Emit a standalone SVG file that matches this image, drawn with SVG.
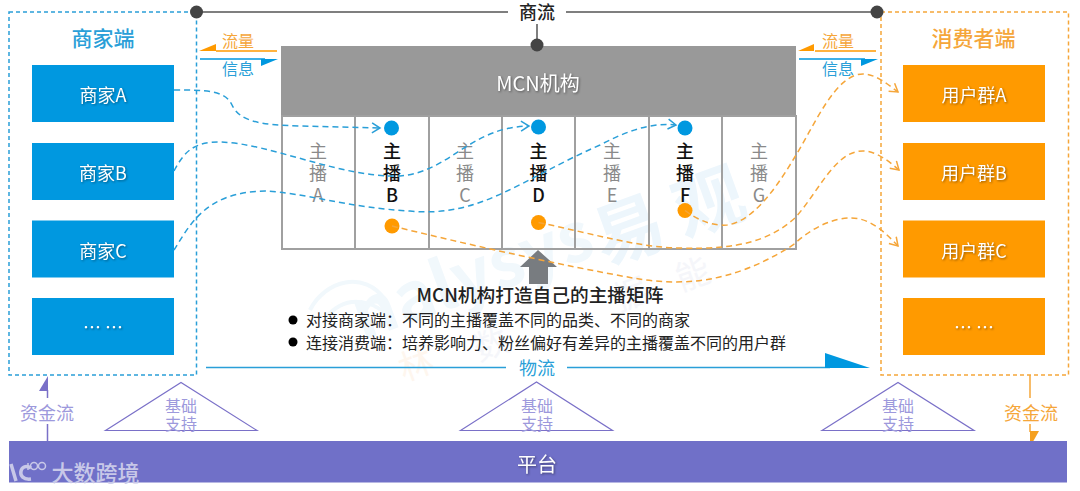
<svg xmlns="http://www.w3.org/2000/svg" width="1080" height="491" viewBox="0 0 1080 491">
<style>
text{font-family:"Noto Sans CJK SC","Noto Sans",sans-serif;text-anchor:middle;dominant-baseline:central}
.b{fill:#0098e0}.o{fill:#ff9a00}
.lab{font-size:18px;fill:#fff;filter:drop-shadow(1px 1px 1px rgba(0,0,0,.4))}
.gn{font-size:18px;fill:#8a8a8a}.bn{font-size:18px;fill:#111;font-weight:500}
.cell{fill:none;stroke:#a0a0a0;stroke-width:2}
.bc{fill:none;stroke:#2a9fd8;stroke-width:1.5;stroke-dasharray:6 4}
.oc{fill:none;stroke:#f5a63a;stroke-width:1.5;stroke-dasharray:6 4}
.pt{fill:none;stroke:#7a70c8;stroke-width:1.2}
.pl{font-size:16px;fill:#9d99dc}
.sm{font-size:16px;fill:#222;text-anchor:start}
.dk{fill:#444}
</style>
<defs>
<marker id="ab" markerWidth="12" markerHeight="12" refX="10" refY="6" orient="auto" markerUnits="userSpaceOnUse"><path d="M2,1L10,6L2,11" fill="none" stroke="#2a9fd8" stroke-width="1.5"/></marker>
<marker id="ao" markerWidth="12" markerHeight="12" refX="10" refY="6" orient="auto" markerUnits="userSpaceOnUse"><path d="M2,1L10,6L2,11" fill="none" stroke="#f5a63a" stroke-width="1.5"/></marker>
</defs>
<rect width="1080" height="491" fill="#fff"/>
<g id="watermark">
<text x="627" y="225" font-size="70" font-weight="700" fill="#edf6fc" transform="rotate(-20 627 225)">易</text>
<text x="707" y="197" font-size="70" font-weight="700" fill="#edf6fc" transform="rotate(-20 707 197)">观</text>
<text x="470" y="270" font-size="68" font-weight="700" fill="#f1f8fc" transform="rotate(-20 470 270)">nalysys</text>
<path d="M310,310C325,280 365,270 385,300M325,320C340,295 375,295 395,325" fill="none" stroke="#f1f8fc" stroke-width="4"/>
<text x="490" y="342" font-size="34" fill="#f5f6fa" transform="rotate(-20 490 342)">数</text>
<text x="630" y="292" font-size="34" fill="#f5f6fa" transform="rotate(-20 630 292)">据</text>
<text x="692" y="272" font-size="34" fill="#f5f6fa" transform="rotate(-20 692 272)">能</text>
<text x="415" y="362" font-size="34" fill="#fef6ee" transform="rotate(-20 415 362)">林</text>
</g>
<g id="merchant-side">
<rect x="9" y="12" width="187.5" height="363" fill="none" stroke="#2a9fd8" stroke-width="1.5" stroke-dasharray="4 3"/>
<text x="103" y="37" font-size="21" fill="#2a9fd8" font-weight="500">商家端</text>
</g>
<g id="merchant-a"><rect class="b" x="32" y="65" width="142" height="57"/><text class="lab" x="103" y="94">商家A</text></g>
<g id="merchant-b"><rect class="b" x="32" y="143" width="142" height="57"/><text class="lab" x="103" y="172">商家B</text></g>
<g id="merchant-c"><rect class="b" x="32" y="220.500" width="142" height="57"/><text class="lab" x="103" y="250">商家C</text></g>
<g id="merchant-more"><rect class="b" x="32" y="298" width="142" height="57"/><text class="lab" x="103" y="326">… …</text></g>
<g id="consumer-side">
<rect x="881" y="12" width="187.500" height="363" fill="none" stroke="#f5a63a" stroke-width="1.5" stroke-dasharray="4 3"/>
<text x="973.500" y="37" font-size="21" fill="#f5a63a" font-weight="500">消费者端</text>
</g>
<g id="user-a"><rect class="o" x="903" y="65" width="142" height="57"/><text class="lab" x="974" y="94">用户群A</text></g>
<g id="user-b"><rect class="o" x="903" y="143" width="142" height="57"/><text class="lab" x="974" y="172">用户群B</text></g>
<g id="user-c"><rect class="o" x="903" y="220.500" width="142" height="57"/><text class="lab" x="974" y="250">用户群C</text></g>
<g id="user-more"><rect class="o" x="903" y="298" width="142" height="57"/><text class="lab" x="974" y="326">… …</text></g>
<g id="mcn">
<rect x="281" y="46" width="515" height="70" fill="#999"/>
<text x="538" y="82" font-size="20" fill="#fff" style="filter:drop-shadow(1px 1px 1px rgba(0,0,0,.4))">MCN机构</text>
</g>
<g id="anchors">
<rect class="cell" x="282" y="116" width="514" height="133"/>
<path class="cell" d="M355,116V249M429,116V249M502,116V249M575,116V249M649,116V249M722,116V249"/>
<g id="anchor-a" class="gn"><text x="318" y="150">主</text><text x="318" y="172">播</text><text x="318" y="194">A</text></g>
<g id="anchor-b" class="bn"><text x="392" y="150">主</text><text x="392" y="172">播</text><text x="392" y="194">B</text><circle cx="391.500" cy="128" r="7.500" class="b"/><circle cx="392" cy="226" r="7.500" class="o"/></g>
<g id="anchor-c" class="gn"><text x="465" y="150">主</text><text x="465" y="172">播</text><text x="465" y="194">C</text></g>
<g id="anchor-d" class="bn"><text x="538.500" y="150">主</text><text x="538.500" y="172">播</text><text x="538.500" y="194">D</text><circle cx="538.500" cy="127" r="7.500" class="b"/><circle cx="538.500" cy="222.500" r="7.500" class="o"/></g>
<g id="anchor-e" class="gn"><text x="612" y="150">主</text><text x="612" y="172">播</text><text x="612" y="194">E</text></g>
<g id="anchor-f" class="bn"><text x="685" y="150">主</text><text x="685" y="172">播</text><text x="685" y="194">F</text><circle cx="685" cy="128" r="7.500" class="b"/><circle cx="685" cy="210.500" r="7.500" class="o"/></g>
<g id="anchor-g" class="gn"><text x="759" y="150">主</text><text x="759" y="172">播</text><text x="759" y="194">G</text></g>
</g>
<g id="matrix-note">
<path d="M538,250L557,267H548V284H529V267H520Z" fill="#787c80"/>
<text x="540" y="293.500" font-size="18.700" fill="#222" font-weight="500">MCN机构打造自己的主播矩阵</text>
<circle cx="293" cy="320" r="4.500" fill="#000"/><circle cx="293" cy="342" r="4.500" fill="#000"/>
<text class="sm" x="306" y="319">对接商家端：不同的主播覆盖不同的品类、不同的商家</text>
<text class="sm" x="306" y="341.500">连接消费端：培养影响力、粉丝偏好有差异的主播覆盖不同的用户群</text>
</g>
<g id="connectors">
<path class="bc" marker-end="url(#ab)" d="M174,90C205,90 225,90 232,105C240,122 262,125 300,126L380,128"/>
<path class="bc" marker-end="url(#ab)" d="M174,171C185,150 195,142 220,142C270,143 340,178 400,176C450,172 470,127 529,126"/>
<path class="bc" marker-end="url(#ab)" d="M174,250C190,225 205,192 265,191C300,192 350,208 410,211C480,218 520,180 600,145C625,132 650,122 676,125"/>
<path class="oc" marker-end="url(#ao)" d="M392,226C470,245 560,265 633,278C680,286 730,285 793,245C815,225 835,218 851,218C870,218 885,232 898,246"/>
<path class="oc" marker-end="url(#ao)" d="M538.500,222.500C590,233 640,248 680,248C740,250 770,240 795,218C820,190 835,151 863,151C875,151 888,160 899,170"/>
<path class="oc" marker-end="url(#ao)" d="M685,210.500C700,222 715,226 727,225C750,222 772,195 793,160C815,125 835,74 863,74C875,74 886,83 898,92"/>
<g fill="none" stroke="#555" stroke-width="1.500"><path d="M196,12H508M566,12H877M537,24V45"/></g>
<circle class="dk" cx="196.500" cy="12" r="6.500"/><circle class="dk" cx="877" cy="12" r="6.500"/><circle class="dk" cx="537" cy="45" r="6.500"/>
<text x="537" y="11" font-size="18" fill="#222" font-weight="500">商流</text>
<path d="M216,51H277M815,51H876" stroke="#ff9a00" stroke-width="1.500" fill="none"/>
<path class="o" d="M199,51L216,44V51ZM798,51L814,44V51Z"/>
<path d="M200,59H265M799,59H865" stroke="#0098e0" stroke-width="1.500" fill="none"/>
<path class="b" d="M261,59H278L261,66ZM861,59H878L861,66Z"/>
<text x="238" y="40" font-size="16" fill="#f5a63a">流量</text><text x="238" y="68" font-size="16" fill="#2a9fd8">信息</text>
<text x="838" y="40" font-size="16" fill="#f5a63a">流量</text><text x="838" y="68" font-size="16" fill="#2a9fd8">信息</text>
<path d="M206,367.500H506M567,367.500H830" stroke="#2a9fd8" stroke-width="1.500" fill="none"/>
<path class="b" d="M825,353L870,368H825Z"/>
<text x="537" y="367" font-size="18" fill="#2a9fd8">物流</text>
<path d="M47.500,390V398M47.500,424V441" stroke="#7a70c8" stroke-width="1.500" fill="none"/>
<path d="M48,376L39,391H48Z" fill="#7a70c8"/>
<text x="47" y="412" font-size="18" fill="#9d99dc">资金流</text>
<path d="M1030,375V398M1030,424V432" stroke="#f5a63a" stroke-width="1.500" fill="none"/>
<path d="M1030,447V431H1039Z" fill="#f5a020"/>
<text x="1031" y="412" font-size="18" fill="#f5a63a">资金流</text>
</g>
<g id="platform">
<rect x="9" y="441" width="1058" height="41.500" fill="#7070c8"/>
<text x="537" y="463" font-size="20" fill="#fff" style="filter:drop-shadow(1px 1px 1px rgba(0,0,0,.4))">平台</text>
<text x="95.500" y="471" font-size="22" font-weight="500" fill="#c8c8e8">大数跨境</text>
<path d="M11,464L16,481M31,468C20,461 15,481 31,479" fill="none" stroke="#c8c8e8" stroke-width="3.500"/>
<path d="M28,463V470" stroke="#c8c8e8" stroke-width="1.500"/>
<circle cx="34" cy="466" r="3.500" fill="none" stroke="#c8c8e8" stroke-width="1.500"/><circle cx="42" cy="466" r="3.500" fill="none" stroke="#c8c8e8" stroke-width="1.500"/>
</g>
<g id="support-left"><path class="pt" d="M105.500,430.500L181,382.500L257,430.500Z"/><text class="pl" x="181" y="405">基础</text><text class="pl" x="181" y="423">支持</text></g>
<g id="support-mid"><path class="pt" d="M460.500,430.500L536.500,382L612.500,430.500Z"/><text class="pl" x="537" y="405">基础</text><text class="pl" x="537" y="423">支持</text></g>
<g id="support-right"><path class="pt" d="M822,430.500L898,382.500L974,430.500Z"/><text class="pl" x="898" y="405">基础</text><text class="pl" x="898" y="423">支持</text></g>
</svg>
